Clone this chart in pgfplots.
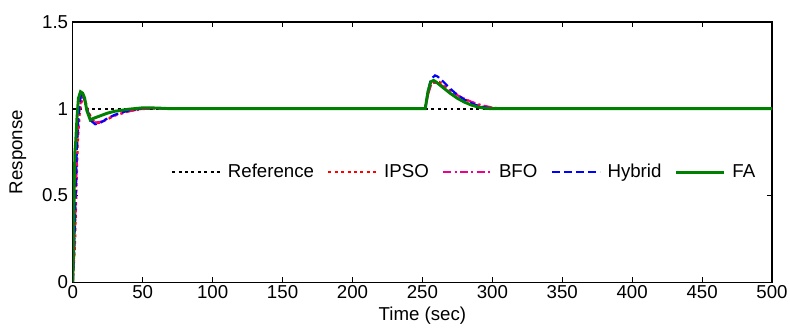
\documentclass[border=0pt]{standalone}
\usepackage{pgfplots}
\pgfplotsset{compat=1.18}
\usepackage{fontspec}
\setmainfont{Liberation Sans}
\begin{document}
\begin{tikzpicture}
\begin{axis}[
  scale only axis,
  width=524.25pt, height=195pt,
  xmin=0, xmax=500, ymin=0, ymax=1.5,
  xtick={0,50,...,500}, ytick={0,0.5,1,1.5},
  yticklabels={0,0.5,1,1.5},
  tick align=inside, major tick length=4pt,
  font=\fontsize{14}{15}\selectfont,
  /pgf/number format/assume math mode=true,
  xlabel={Time (sec)}, ylabel={Response},
  xlabel style={yshift=1pt}, ylabel style={yshift=5pt},
  xticklabel style={yshift=1pt},
  axis line style={line width=0.8pt},
  tick style={line width=0.6pt, black},
  legend style={at={(0.986,0.423)}, anchor=east, draw=none, fill=none,
    font=\fontsize{14}{15}\selectfont, /tikz/every odd column/.append style={column sep=3pt},
    /tikz/every even column/.append style={column sep=8pt}},
  legend columns=5,
  legend image code/.code={\draw[#1] (0pt,0pt) -- (36pt,0pt);},
]
\addplot[black, dash pattern=on 2.2pt off 2.6pt, line width=1.6pt] coordinates {(0,1) (500,1)};
\addlegendentry{Reference}
\addplot[red, dash pattern=on 2.2pt off 2.6pt, line width=1.6pt] coordinates {
(0,0) (1.5,0.2) (2.5,0.5) (3.5,0.8) (5,0.98) (7,1.07) (8.5,1.06) (10.5,1.0) (13.5,0.94) (16.5,0.915) (20,0.92) (25,0.94) (30,0.96) (40,0.985) (50,1.0) (60,1.003) (70,1.0) (252,1.0) (254,1.08) (256,1.14) (259,1.155) (262,1.155) (266,1.13) (270,1.105) (275,1.08) (280,1.055) (285,1.038) (290,1.022) (295,1.012) (300,1.005) (308,1.0) (500,1.0)};
\addlegendentry{IPSO}
\addplot[magenta, dash pattern=on 6pt off 2.5pt on 1.5pt off 2.5pt, line width=1.6pt] coordinates {
(0,0) (1.2,0.2) (2.2,0.5) (3.2,0.8) (4.5,0.98) (6.5,1.075) (8,1.065) (10,1.0) (13,0.94) (16,0.92) (20,0.925) (25,0.945) (30,0.962) (40,0.985) (50,0.998) (60,1.002) (70,1.0) (252,1.0) (254,1.08) (256,1.135) (258,1.15) (261,1.148) (265,1.128) (270,1.102) (275,1.078) (280,1.058) (285,1.04) (290,1.026) (295,1.015) (300,1.007) (305,1.002) (310,1.0) (500,1.0)};
\addlegendentry{BFO}
\addplot[blue, dash pattern=on 6pt off 3pt, line width=1.6pt] coordinates {
(0,0) (1,0.2) (2,0.5) (3,0.8) (4,0.95) (5.5,1.07) (6.5,1.085) (8,1.06) (10,1.0) (13,0.93) (16,0.91) (20,0.92) (25,0.945) (30,0.965) (40,0.99) (50,1.003) (60,1.003) (70,1.0) (252,1.0) (254,1.1) (256,1.17) (259,1.192) (261,1.185) (265,1.155) (270,1.115) (275,1.08) (280,1.052) (285,1.032) (290,1.016) (295,1.007) (300,1.002) (305,1.0) (500,1.0)};
\addlegendentry{Hybrid}
\addplot[green!50!black, solid, line width=2.2pt] coordinates {
(0,0) (0.5,0.2) (1,0.55) (1.5,0.75) (2,0.8) (3,0.95) (4,1.06) (5.5,1.098) (7,1.09) (8.5,1.06) (10,0.99) (12.5,0.935) (15,0.945) (20,0.96) (25,0.975) (30,0.985) (40,0.997) (50,1.005) (60,1.004) (70,1.0) (252,1.0) (254,1.1) (256,1.155) (258,1.163) (260,1.153) (265,1.12) (270,1.088) (275,1.06) (280,1.038) (285,1.021) (290,1.009) (295,1.002) (300,1.0) (500,1.0)};
\addlegendentry{FA}
\end{axis}
\pgfresetboundingbox
\path ([xshift=-54.6pt,yshift=-33.75pt]current axis.south west) rectangle ([xshift=13.5pt,yshift=16.5pt]current axis.north east);
\end{tikzpicture}
\end{document}
